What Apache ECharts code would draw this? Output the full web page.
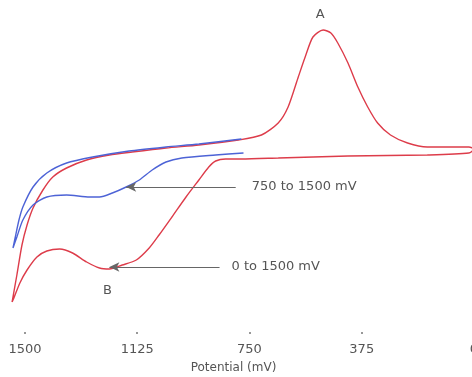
<!DOCTYPE html>
<html>
<head>
<meta charset="utf-8">
<script src="https://cdn.jsdelivr.net/npm/echarts@6/dist/echarts.min.js"></script>
<style>
  html, body { margin: 0; padding: 0; background: #fff; }
  #chart { width: 472px; height: 377px; }
</style>
</head>
<body>
<div id="chart"></div>
<script>
// potential axis ticks (mV)
const potentialTicks = [0, 375, 750, 1125, 1500];

// 0 to 1500 mV scan (red): vertex at 1500, over peak A to 0 mV, back through B
const redPotential = [1543, 1527, 1510, 1493, 1473, 1440, 1407, 1361, 1294, 1218, 1142, 1029, 919, 787, 710, 654, 621, 587, 564, 538, 504, 478, 455, 421, 388, 355, 322, 279, 222, 156, 17, 0,
  17, 156, 421, 654, 777, 830, 863, 886, 919, 962, 1009, 1052, 1085, 1128, 1175, 1218, 1251, 1294, 1341, 1384, 1427, 1460, 1493, 1517, 1537, 1543];
const redCurrent = [3.0, 5.7, 8.7, 10.7, 12.4, 14.2, 15.5, 16.4, 17.2, 17.7, 18.0, 18.4, 18.7, 19.2, 19.7, 20.9, 22.5, 25.5, 27.5, 29.5, 30.2, 29.9, 28.9, 26.9, 24.5, 22.5, 20.9, 19.7, 18.9, 18.5, 18.5, 18.3,
  17.9, 17.7, 17.6, 17.4, 17.3, 17.3, 17.1, 16.5, 15.2, 13.5, 11.5, 9.7, 8.4, 7.2, 6.7, 6.3, 6.4, 7.0, 7.9, 8.3, 8.1, 7.5, 6.2, 4.9, 3.4, 3.0];

// 750 to 1500 mV scan (blue)
const bluePotential = [770, 863, 976, 1029, 1075, 1118, 1162, 1208, 1251, 1284, 1361, 1427, 1473, 1507, 1527, 1540,
  1533, 1520, 1507, 1473, 1427, 1361, 1274, 1152, 1029, 919, 777];
const blueCurrent = [17.9, 17.7, 17.4, 17.0, 16.2, 15.2, 14.5, 13.9, 13.5, 13.5, 13.7, 13.5, 12.7, 11.2, 9.5, 8.4,
  9.4, 11.2, 12.5, 14.5, 15.9, 16.9, 17.5, 18.1, 18.5, 18.8, 19.3];

// annotations
const peakA = [504, 30.2];
const peakB = [1218, 6.3];
const arrowBlue = [1162, 796, 14.5];
const arrowRed = [1218, 850, 6.5];

const zip = (xs, ys) => xs.map((x, i) => [x, ys[i]]);

const chart = echarts.init(document.getElementById('chart'));

const textStyle = { fontFamily: 'DejaVu Sans', color: '#555' };

const option = {
  animation: false,
  grid: { left: 7, right: -2, top: 12, bottom: 45, outerBoundsMode: 'none', containLabel: false },
  xAxis: {
    type: 'value',
    inverse: true,
    min: 0,
    max: 1560,
    interval: 375,
    splitLine: { show: false },
    axisLine: { show: false },
    axisTick: { show: true, length: 2, customValues: potentialTicks, lineStyle: { color: '#777', width: 1.5 } },
    axisLabel: { customValues: potentialTicks, formatter: v => String(v), margin: 11, fontSize: 13, ...textStyle },
    name: 'Potential (mV)',
    nameLocation: 'middle',
    nameGap: 30,
    nameTextStyle: { fontSize: 12, padding: [0, 14, 0, 0], ...textStyle }
  },
  yAxis: {
    type: 'value',
    min: 0,
    max: 32,
    show: false
  },
  series: [
    {
      type: 'line',
      data: zip(redPotential, redCurrent),
      showSymbol: false,
      smooth: 0.25,
      lineStyle: { color: '#dd3c4a', width: 1.4 },
      markPoint: {
        symbol: 'circle',
        symbolSize: 0,
        label: { show: true, fontSize: 13, ...textStyle },
        data: [
          { coord: peakA, value: 'A', label: { formatter: 'A', offset: [-3, -15] } },
          { coord: peakB, value: 'B', label: { formatter: 'B', offset: [-2, 22] } }
        ]
      },
      markLine: {
        silent: true,
        symbol: ['arrow', 'none'],
        symbolSize: [7, 10],
        lineStyle: { color: '#666', width: 1.2, type: 'solid' },
        label: { show: true, position: 'end', distance: 12, formatter: '0 to 1500 mV', fontSize: 13, ...textStyle },
        data: [[{ coord: [arrowRed[0], arrowRed[2]] }, { coord: [arrowRed[1], arrowRed[2]] }]]
      }
    },
    {
      type: 'line',
      data: zip(bluePotential, blueCurrent),
      showSymbol: false,
      smooth: 0.25,
      lineStyle: { color: '#4d63d6', width: 1.4 },
      markLine: {
        silent: true,
        symbol: ['arrow', 'none'],
        symbolSize: [7, 10],
        lineStyle: { color: '#666', width: 1.2, type: 'solid' },
        label: { show: true, position: 'end', distance: 16, formatter: '750 to 1500 mV', fontSize: 13, ...textStyle },
        data: [[{ coord: [arrowBlue[0], arrowBlue[2]] }, { coord: [arrowBlue[1], arrowBlue[2]] }]]
      }
    }
  ]
};

chart.setOption(option);
window.addEventListener('resize', () => chart.resize());
</script>
</body>
</html>
